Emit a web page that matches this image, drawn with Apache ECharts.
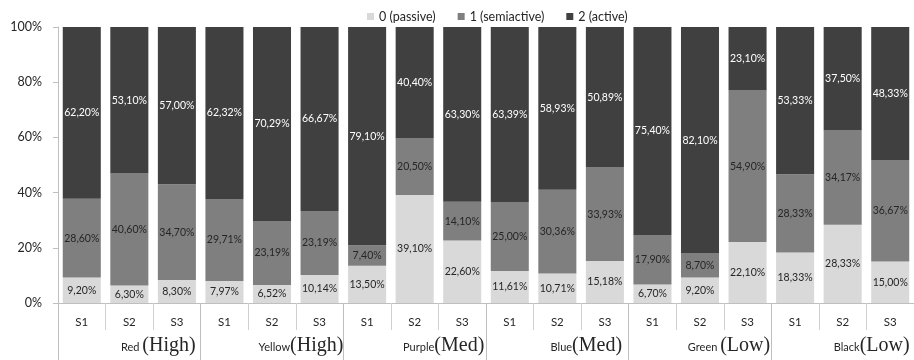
<!DOCTYPE html>
<html>
<head>
<meta charset="utf-8">
<script src="https://cdn.jsdelivr.net/npm/echarts@6/dist/echarts.min.js"></script>
<style>
html,body{margin:0;padding:0;background:#fff;}
#c{width:914px;height:360px;}
</style>
</head>
<body>
<div id="c"></div>
<script>
const categories = ['S1','S2','S3','S1','S2','S3','S1','S2','S3','S1','S2','S3','S1','S2','S3','S1','S2','S3'];
const groupNames = ['Red ','Yellow','Purple','Blue','Green ','Black'];
const groupLevels = ['(High)','(High)','(Med)','(Med)','(Low)','(Low)'];
const seriesNames = ['0 (passive)','1 (semiactive)','2 (active)'];
const passive =    [9.20, 6.30, 8.30, 7.97, 6.52, 10.14, 13.50, 39.10, 22.60, 11.61, 10.71, 15.18, 6.70, 9.20, 22.10, 18.33, 28.33, 15.00];
const semiactive = [28.60, 40.60, 34.70, 29.71, 23.19, 23.19, 7.40, 20.50, 14.10, 25.00, 30.36, 33.93, 17.90, 8.70, 54.90, 28.33, 34.17, 36.67];
const active =     [62.20, 53.10, 57.00, 62.32, 70.29, 66.67, 79.10, 40.40, 63.30, 63.39, 58.93, 50.89, 75.40, 82.10, 23.10, 53.33, 37.50, 48.33];
const yTicks = [0, 20, 40, 60, 80, 100];

const colors = ['#d9d9d9', '#7f7f7f', '#404040'];
const labelColors = ['#262626', '#262626', '#ffffff'];
const fmt = v => v.toFixed(2).replace('.', ',') + '%';
const FONT = 'Lato, "Open Sans", sans-serif';

const chart = echarts.init(document.getElementById('c'), null, {renderer: 'canvas'});
const values = [passive, semiactive, active];
const series = values.map((arr, i) => ({
  name: seriesNames[i],
  type: 'bar',
  stack: 'total',
  xAxisIndex: 0,
  barCategoryGap: '20%',
  data: arr,
  itemStyle: {color: colors[i]},
  label: {
    show: true,
    position: 'inside',
    formatter: p => fmt(p.value),
    color: labelColors[i],
    fontFamily: FONT,
    fontSize: 10.5
  },
  emphasis: {disabled: true}
}));

chart.setOption({
  animation: false,
  backgroundColor: '#ffffff',
  color: colors,
  legend: {
    data: seriesNames,
    top: 5,
    left: 362,
    icon: 'rect',
    itemWidth: 7,
    itemHeight: 7,
    itemGap: 22,
    textStyle: {fontFamily: FONT, fontSize: 12.5, color: '#262626'}
  },
  grid: {left: 58, top: 27, width: 858, height: 276, containLabel: false},
  xAxis: [
    {
      type: 'category',
      data: categories,
      position: 'bottom',
      axisLine: {show: true, lineStyle: {color: '#bfbfbf', width: 1}},
      axisTick: {show: true, interval: 0, length: 27, lineStyle: {color: '#d0d0d0'}},
      axisLabel: {interval: 0, margin: 13, color: '#262626', fontFamily: FONT, fontSize: 11.5}
    },
    {
      type: 'category',
      data: groupNames,
      position: 'bottom',
      axisLine: {show: false},
      axisTick: {show: true, interval: 0, length: 60, lineStyle: {color: '#bfbfbf'}},
      axisLabel: {
        interval: 0,
        margin: 33,
        padding: [0, 0, 0, 58],
        formatter: (v, idx) => '{a|' + v + '}{b|' + groupLevels[idx] + '}',
        rich: {
          a: {fontFamily: FONT, fontSize: 11, color: '#262626', verticalAlign: 'bottom', padding: [0, 0, 3, 0]},
          b: {fontFamily: '"Liberation Serif", "DejaVu Serif", serif', fontSize: 20, color: '#262626', verticalAlign: 'bottom'}
        }
      }
    }
  ],
  yAxis: {
    type: 'value',
    min: yTicks[0],
    max: yTicks[yTicks.length - 1],
    interval: 20,
    axisLine: {show: true, lineStyle: {color: '#bfbfbf'}},
    axisTick: {show: true, length: 5, lineStyle: {color: '#bfbfbf'}},
    splitLine: {show: false},
    axisLabel: {formatter: '{value}%', margin: 16, color: '#262626', fontFamily: FONT, fontSize: 12.5}
  },
  series: series
});
</script>
</body>
</html>
